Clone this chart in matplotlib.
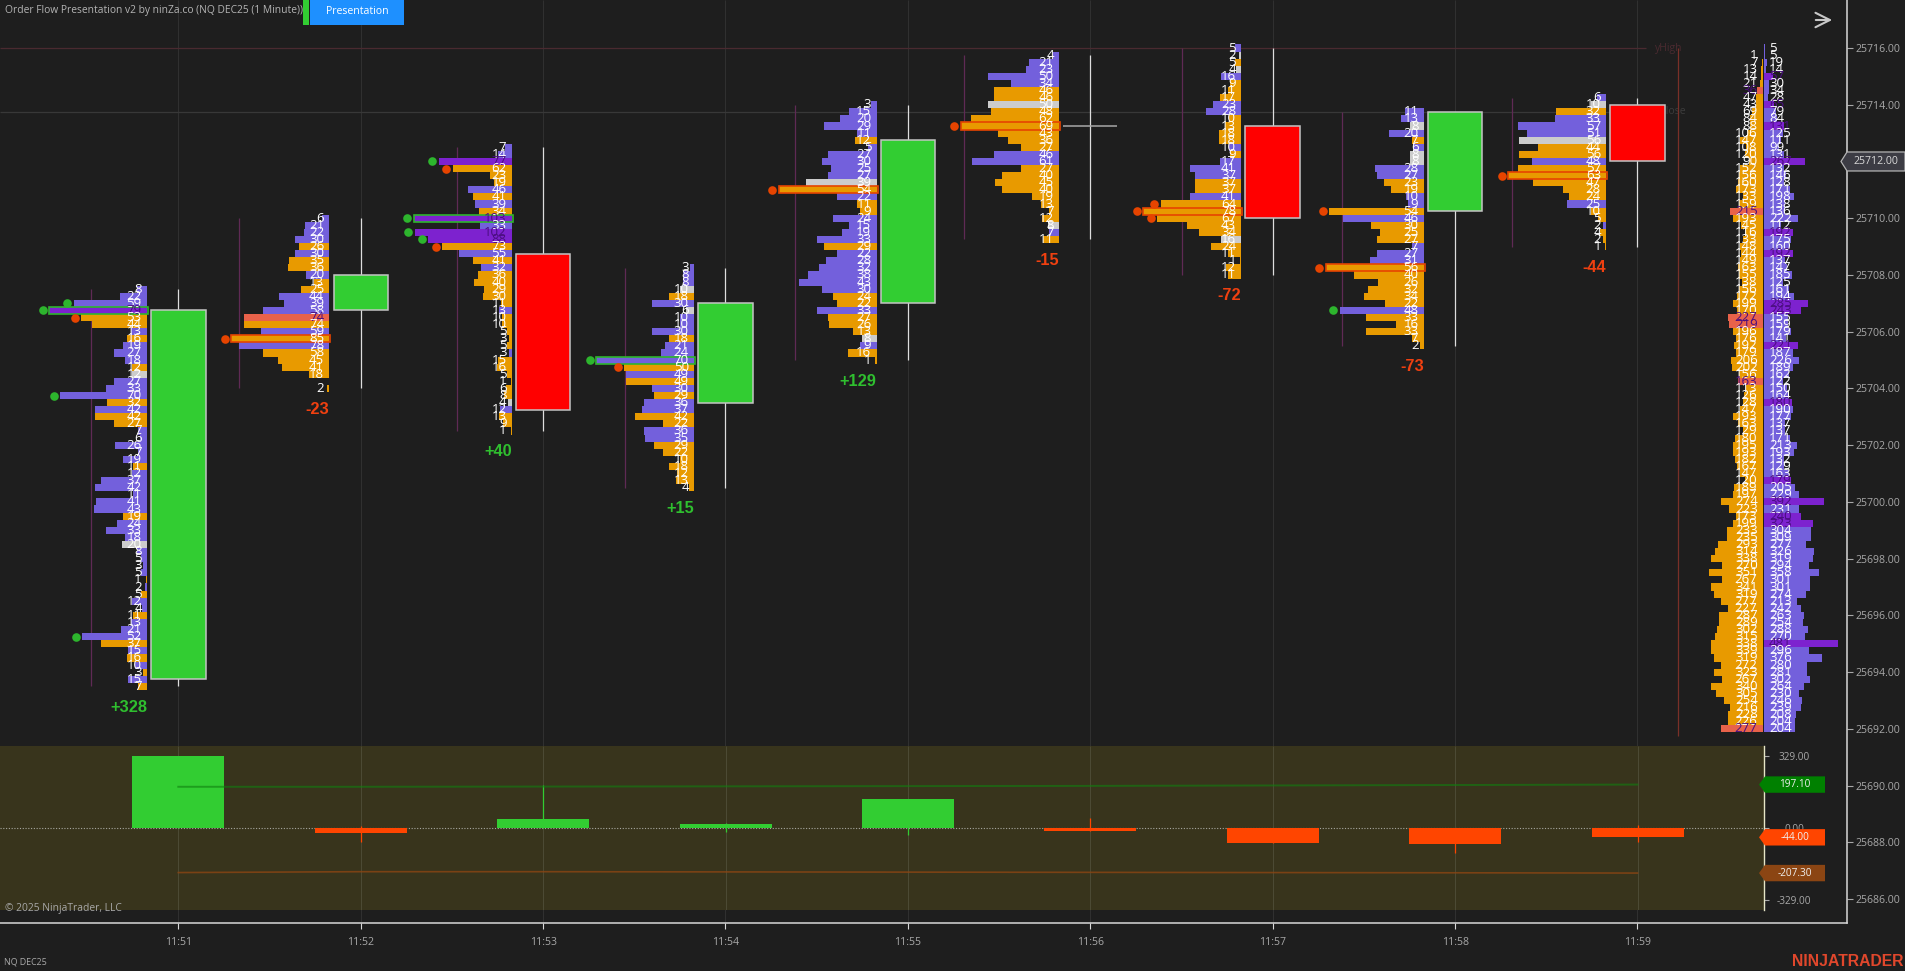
#plot.py
#order flow chart, NQ DEC25 1 minute
import matplotlib
matplotlib.use("Agg")
import matplotlib.pyplot as plt
from matplotlib.patches import Polygon, Rectangle
from matplotlib.transforms import blended_transform_factory

W, H = 1906, 971
plt.rcParams["font.family"] = ["Open Sans", "DejaVu Sans"]

#candles
minutes = [0, 1, 2, 3, 4, 5, 6, 7, 8]
time_labels = ["11:51", "11:52", "11:53", "11:54", "11:55", "11:56", "11:57", "11:58", "11:59"]
opens = [25693.75, 25706.75, 25708.75, 25703.5, 25707.0, 25713.25, 25713.25, 25710.25, 25714.0]
closes = [25706.75, 25708.0, 25703.25, 25707.0, 25712.75, 25713.25, 25710.0, 25713.75, 25712.0]
highs = [25707.5, 25710.0, 25712.5, 25708.25, 25714.0, 25715.75, 25716.0, 25713.75, 25714.25]
lows = [25693.5, 25704.0, 25702.5, 25700.5, 25705.0, 25709.25, 25708.0, 25705.5, 25709.0]

#per bar volume rows, top row first. o orange, p purple, v violet, g grey, c coral
vol_1 = [8,22,59,79,53,44,13,16,19,27, 18,12,12,27,33,70,32,42,42,27, 7,6,26,7,19,11,12,37,42,11,
         41,43,19,24,33,18,20,8,5,3, 5,1,2,5,12,4,11,13,21,52, 37,15,16,10,3,15,7]
col_1 = "pppvoopopp" "pogpppopoo" "pppppopppp" "ppopppgppp" "popoppoppp" "opopopo"
vol_2 = [6,21,22,30,26,30,35,36,20,13, 25,44,39,58,74,74,59,85,78,58, 45,41,18,0,2]
col_2 = "ppppopoopo" "opppcopopo" "ooooo"
vol_3 = [7,14,77,62,23,19,46,41,39,34, 103,33,102,88,73,55,41,32,36,40, 29,30,11,13,10,10,5,3,5,3,
         15,16,5,1,6,8,4,12,13,9, 1]
col_3 = "ppvooopopo" "vpvvopopoo" "ooopooooop" "oooooogpoo" "o"
vol_4 = [3,8,8,10,18,30,6,10,10,30, 18,21,24,70,50,49,49,30,29,36, 37,42,22,36,35,29,22,10,18,12, 13,4]
col_4 = "pppgopgppp" "opppopopop" "pooppooooo" "oo"
vol_5 = [3,15,20,29,11,12,5,27,30,25, 27,39,54,22,11,9,24,15,19,33, 29,22,28,32,38,43,30,24,22,33,
         27,26,13,8,9,16,1]
col_5 = "pppppopppp" "pgopoopppp" "oppppppoop" "ooogpoo"
vol_6 = [4,21,23,50,34,46,46,50,48,62, 69,43,36,27,46,61,27,40,45,40, 19,13,7,12,8,7,11]
col_6 = "pppppoogoo" "ooooppoooo" "oooogpo"
vol_7 = [5,2,5,4,16,9,11,17,23,28, 10,13,18,18,10,9,17,41,37,37, 37,41,64,78,67,43,34,16,24,11, 1,12,11]
col_7 = "pgogpooopp" "oooopopppo" "opooooogoo" "ooo"
vol_8 = [11,13,8,20,7,6,8,8,28,27, 23,19,10,9,54,46,30,25,27,7, 27,31,56,40,26,32,34,22,48,33, 16,33,7,2]
col_8 = "ppgpopggpp" "ooppopooop" "ppoooooopo" "oooo"
vol_9 = [6,10,32,33,57,51,56,44,56,48, 57,63,47,28,24,25,10,5,2,4, 2,1]
col_9 = "pgopppgoop" "ooooopoopo" "oo"
volumes = [vol_1, vol_2, vol_3, vol_4, vol_5, vol_6, vol_7, vol_8, vol_9]
colours = [col_1, col_2, col_3, col_4, col_5, col_6, col_7, col_8, col_9]
#rows with a dot, and the row with the box
dots = [[2,3,4,15,49], [17], [2,3,10,12,13,14], [13,14], [12], [10], [22,23,24], [14,22,28], [11]]
boxes = [3, 17, 10, 13, 12, 10, 23, 22, 11]

#session profile on the right, 25716 down to 25692
session_sell = [0,1,7,13,14,21,36,47,43,69, 84,88,106,147,108,120,90,152,156,160,
                173,133,159,215,193,145,116,133,148,144, 149,163,155,138,156,172,199,170,227,219,
                196,176,192,179,206,202,156,163,113, 126,128,147,193,163,129,180,195,193,182,
                167,147,120,189,197,274,223,173,199,233, 235,293,314,338,270,351,267,341,319,277,
                227,287,289,302,315,338,339,319,272,323, 267,340,305,254,216,228,226,277]
session_buy = [5,5,19,14,57,30,34,28,65,79, 84,131,125,111,99,131,267,132,146,128,
               171,198,138,136,222,112,192,175,160,192, 137,147,185,125,161,194,285,243,155,159,
               179,141,221,187,226,189,162,122,150, 164,180,190,177,137,137,171,213,193,132,
               129,163,179,205,229,392,231,240,323,304, 309,277,326,319,294,358,301,301,274,213,
               242,263,254,288,270,481,296,376,280,281, 302,264,230,246,239,208,204,204]
session_coral = [6,23,38,39,47,96]
session_violet = [4,8,11,16,26,29,36,37,42,50,61,64,66,67,84]

#lower panel
delta = [328, -23, 40, 15, 129, -15, -72, -73, -44]
delta_high = [328, 8, 195, 20, 129, 44, 0, 0, 12]
delta_low = [-3, -65, 0, -18, -33, -15, -72, -117, -64]
band_up = [187, 187, 188, 189, 190, 191, 193, 195, 197.1]
band_down = [-205, -201, -201, -202, -203, -204, -205, -206, -207.3]

price_ticks = list(range(25686, 25717, 2))
last_price = 25712.0
y_high = 25716.0
y_close = 25713.75

#layout in pixels of the reference
X0, PPM = 178.3, 182.4          #11:51 position, pixels per minute
PRICE_Y, PPP = 48.0, 28.37      #25716 position, pixels per point
ROW = 0.25
AXIS_X, AXIS_Y = 1847, 922.7
PANEL_X, PANEL_TOP, PANEL_BOT = 1764, 746, 910
ZERO_Y, PPV = 827.7, 72.0/329
PROFILE_W = 98/PPM
PROFILE_GAP = 31.3/PPM
LABEL_GAP = 5.3/PPM
DOT_GAP = 6.5/PPM
RANGE_X = [-87, -122, -86, -101, -113, -126, -91, -112.6, -125]

BG = "#1e1e1e"
BAR = {"o": "#e89a00", "p": "#7360dc", "v": "#7d22cf", "g": "#cccccc", "c": "#e8624a"}
GREEN = "#32cd32"
RED = "#ff0000"
ORANGERED = "#ff4500"
DOT_GREEN = "#2db52d"
DOT_ORANGE = "#e64400"
DARK_TEXT = "#4a0e80"
AXIS_TEXT = "#a8a8a8"
ROW_FONT = 9.5

def tx(p):
    return (p - X0)/PPM

def fx(p):
    return p/W

def fy(p):
    return 1 - p/H

fig = plt.figure(figsize=(W/100, H/100), dpi=100, facecolor=BG)
ax = fig.add_axes([0, fy(AXIS_Y), AXIS_X/W, AXIS_Y/H], facecolor=BG)
ax.set_xlim(tx(0), tx(AXIS_X))
ax.set_ylim(25716 - (AXIS_Y - PRICE_Y)/PPP, 25716 + PRICE_Y/PPP)
for s in ["top", "left"]:
    ax.spines[s].set_visible(False)
for s in ["right", "bottom"]:
    ax.spines[s].set_color("#d8d8d8")
    ax.spines[s].set_linewidth(1.1)

ax.set_xticks(minutes, time_labels)
ax.yaxis.tick_right()
ax.set_yticks(price_ticks, [f"{p:.2f}" for p in price_ticks])
ax.tick_params(axis="x", length=4, width=0.8, color="#d8d8d8", labelcolor=AXIS_TEXT, labelsize=7.6, pad=6)
ax.tick_params(axis="y", length=4, width=0.8, color="#a8a8a8", labelcolor=AXIS_TEXT, labelsize=7.6, pad=2)
ax.vlines(minutes, ax.get_ylim()[0], ax.get_ylim()[1], color="#303030", lw=0.72, zorder=1)

#yesterday lines
ax.hlines(y_high, tx(0), tx(1646), color="#4a2a30", lw=0.9, zorder=1)
ax.hlines(y_close, tx(0), tx(1646), color="#383838", lw=0.9, zorder=1)
ax.text(tx(1655), y_high, "yHigh", color="#4a2a30", fontsize=7.5, va="center", ha="left", zorder=1)
ax.text(tx(1655), y_close, "yClose", color="#3d3d3d", fontsize=7.5, va="center", ha="left", zorder=1)
ax.vlines(tx(1678.3), 25691.75, y_high, color="#7a3028", lw=0.9, zorder=2)

#candles
for i, t in enumerate(minutes):
    ax.vlines(t, lows[i], highs[i], color="#dddddd", lw=0.9, zorder=3)
    up = closes[i] > opens[i]
    flat = closes[i] == opens[i]
    face = GREEN if up else RED
    ax.bar(t, closes[i] - opens[i], bottom=opens[i], width=54.4/PPM, color=face,
           edgecolor="#a8a8a8" if flat else "#c4c4c4", linewidth=1.1, zorder=4)

#footprint rows beside each candle
for i, t in enumerate(minutes):
    vols = volumes[i]
    cols = colours[i]
    right = t - PROFILE_GAP
    scale = PROFILE_W/max(vols)
    ax.vlines(t + RANGE_X[i]/PPM, lows[i], highs[i], color="#5f2a55", lw=0.9, zorder=2)
    for r, v in enumerate(vols):
        price = highs[i] - r*ROW
        ax.barh(price, v*scale, height=ROW, left=right - v*scale, color=BAR[cols[r]], linewidth=0, zorder=5)
    box = boxes[i]
    box_col = DOT_ORANGE if cols[box] in "oc" else DOT_GREEN
    box_w = vols[box]*scale
    ax.add_patch(Rectangle((right - box_w, highs[i] - box*ROW - ROW/2), box_w + 1/PPM, ROW, fill=False,
                           edgecolor=box_col, linewidth=1.2, zorder=6))
    for r in dots[i]:
        ax.plot(right - vols[r]*scale - DOT_GAP, highs[i] - r*ROW, "o", ms=6.2, mew=0,
                color=DOT_ORANGE if cols[r] in "oc" else DOT_GREEN, zorder=6)
    for r, v in enumerate(vols):
        if v == 0:
            continue
        ax.text(right - LABEL_GAP, highs[i] - r*ROW, str(v), ha="right", va="center", fontsize=ROW_FONT,
                color=DARK_TEXT if cols[r] in "vc" else "white", zorder=7)
    #bar delta under the profile
    ax.text(right, lows[i] - 0.74, f"{delta[i]:+d}", ha="right", va="center", fontsize=11.8, fontweight="bold",
            family="Liberation Sans", color="#2fbf2f" if delta[i] > 0 else "#f04010", zorder=7)

#session profile
mid = tx(1763.5)
sess_scale = (73.7/PPM)/max(session_buy)
for r in range(len(session_buy)):
    price = 25716 - r*ROW
    s, b = session_sell[r], session_buy[r]
    ax.barh(price, s*sess_scale, height=ROW, left=mid - s*sess_scale - 0.5/PPM,
            color=BAR["c"] if r in session_coral else BAR["o"], linewidth=0, zorder=5)
    ax.barh(price, b*sess_scale, height=ROW, left=mid + 0.5/PPM,
            color=BAR["v"] if r in session_violet else BAR["p"], linewidth=0, zorder=5)
for r in range(len(session_buy)):
    price = 25716 - r*ROW
    s, b = session_sell[r], session_buy[r]
    if s > 0:
        ax.text(tx(1757.6), price, str(s), ha="right", va="center", fontsize=ROW_FONT, zorder=7,
                color=DARK_TEXT if r in session_coral else "white")
    ax.text(tx(1769), price, str(b), ha="left", va="center", fontsize=ROW_FONT, zorder=7,
            color=DARK_TEXT if r in session_violet else "white")

#last price flag on the axis
tr = blended_transform_factory(fig.transFigure, ax.transData)
d = 9.5/PPP
ax.add_patch(Polygon([(fx(1841), last_price), (fx(1847), last_price + d), (fx(1905), last_price + d),
                      (fx(1905), last_price - d), (fx(1847), last_price - d)], closed=True, transform=tr,
                     facecolor="#3c3c44", edgecolor="#b4b4b4", linewidth=0.9, clip_on=False, zorder=8))
ax.text(fx(1876), last_price, f"{last_price:.2f}", transform=tr, color="#d8d8d8", fontsize=7.6,
        ha="center", va="center", zorder=9, clip_on=False)

#delta panel
panel = fig.add_axes([0, fy(PANEL_BOT), PANEL_X/W, (PANEL_BOT - PANEL_TOP)/H], facecolor="#38341c")
panel.set_xlim(tx(0), tx(PANEL_X))
panel.set_ylim((ZERO_Y - PANEL_BOT)/PPV, (ZERO_Y - PANEL_TOP)/PPV)
for s in ["top", "left", "bottom"]:
    panel.spines[s].set_visible(False)
panel.spines["right"].set_color("#e6e6c8")
panel.spines["right"].set_linewidth(1)
panel.set_xticks([])
panel.yaxis.tick_right()
panel.set_yticks([329, 0, -329], ["329.00", "0.00", "-329.00"])
panel.tick_params(axis="y", length=3.6, width=0.8, color="#a8a8a8", labelcolor=AXIS_TEXT, labelsize=7.2, pad=18)
for lab in panel.get_yticklabels():
    lab.set_ha("center")
panel.vlines(minutes, panel.get_ylim()[0], panel.get_ylim()[1], color="#4c4a34", lw=0.72, zorder=1)
panel.axhline(0, color="#a8a8a0", lw=0.8, ls=(0, (1, 1.5)), zorder=2)
delta_cols = [GREEN if v > 0 else ORANGERED for v in delta]
panel.vlines(minutes, delta_low, delta_high, colors=delta_cols, lw=0.9, zorder=3)
panel.bar(minutes, delta, width=92/PPM, color=delta_cols, linewidth=0, zorder=4)
panel.plot(minutes, band_up, color="#108010", alpha=0.6, lw=1.4, zorder=5)
panel.plot(minutes, band_down, color="#8b4513", alpha=0.8, lw=1.2, zorder=5)

#value flags
ptr = blended_transform_factory(fig.transFigure, panel.transData)
d = 8.2/PPV
for val, face in [(band_up[-1], "#008000"), (delta[-1], ORANGERED), (band_down[-1], "#8b4513")]:
    panel.add_patch(Polygon([(fx(1759), val), (fx(1765), val + d), (fx(1825), val + d), (fx(1825), val - d),
                             (fx(1765), val - d)], closed=True, transform=ptr, facecolor=face, linewidth=0,
                            clip_on=False, zorder=8))
    panel.text(fx(1795), val, f"{val:.2f}", transform=ptr, color="#f0f0f0", fontsize=7.2, ha="center",
               va="center", clip_on=False, zorder=9)

#header and other texts
fig.text(fx(5), fy(11), "Order Flow Presentation v2 by ninZa.co (NQ DEC25 (1 Minute))", color="#b4b4b4",
         fontsize=7.4, va="center", ha="left")
fig.add_artist(Rectangle((fx(303), fy(25)), 6/W, 25/H, transform=fig.transFigure, color=GREEN, lw=0))
fig.add_artist(Rectangle((fx(310), fy(25)), 94/W, 25/H, transform=fig.transFigure, color="#1e90ff", lw=0))
fig.text(fx(357), fy(11), "Presentation", color="white", fontsize=7.6, ha="center", va="center")
fig.text(fx(5), fy(908), "© 2025 NinjaTrader, LLC", color="#a8a8a8", fontsize=7.4, va="center", ha="left")
fig.text(fx(4), fy(962), "NQ DEC25", color="#a8a8a8", fontsize=6.4, va="center", ha="left")
fig.text(fx(1904), fy(961), "NINJATRADER", color="#e0472c", fontsize=11.3, fontweight="bold",
         family="Liberation Sans", va="center", ha="right")
ax.annotate("", xy=(fx(1835), fy(20)), xytext=(fx(1813), fy(20)), xycoords="figure fraction",
            textcoords="figure fraction", arrowprops=dict(arrowstyle="->", color="#c8c8c8", lw=1.5, mutation_scale=26))

fig.savefig("out.png", dpi=100, facecolor=BG)
